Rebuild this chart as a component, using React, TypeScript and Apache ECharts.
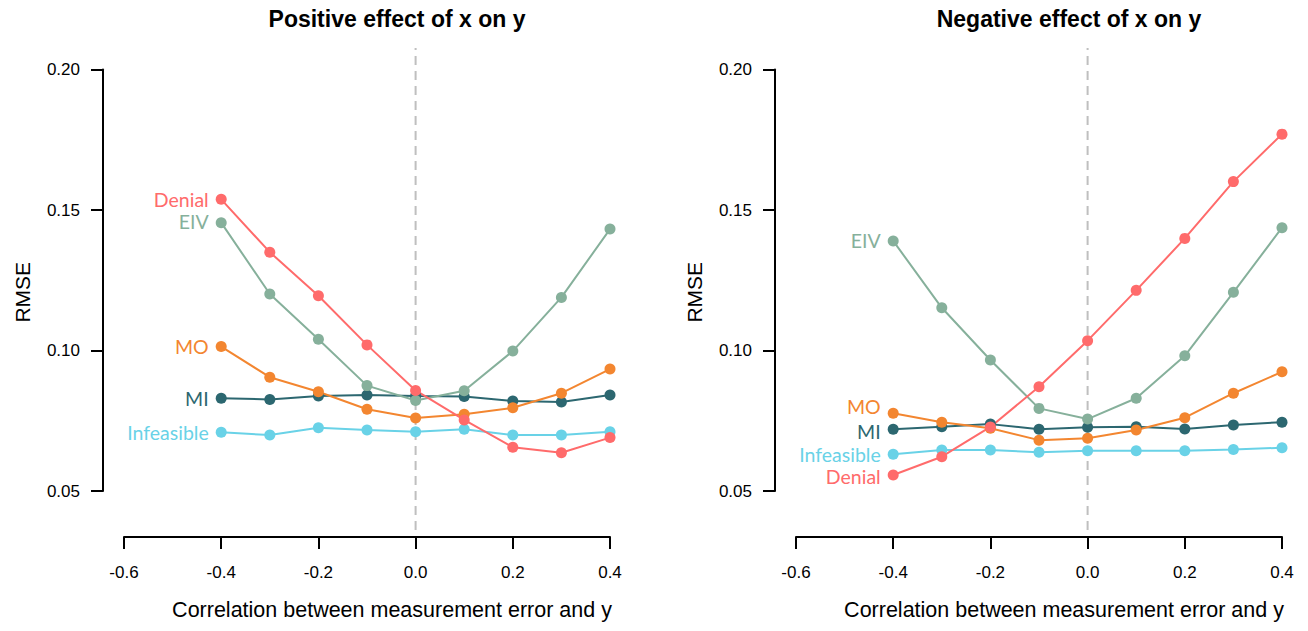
import React, { useEffect, useRef } from "react";
import * as echarts from "echarts";

const xValues = [-0.4, -0.3, -0.2, -0.1, 0.0, 0.1, 0.2, 0.3, 0.4];
const xTicks = [-0.6, -0.4, -0.2, 0.0, 0.2, 0.4];
const yTicks = [0.05, 0.1, 0.15, 0.2];

const methods = ["Infeasible", "MI", "MO", "EIV", "Denial"];
const colors: Record<string, string> = {
  Denial: "#FF6B6B",
  EIV: "#86B09B",
  MO: "#F38630",
  MI: "#2C6770",
  Infeasible: "#69D2E7",
};

const posDenial = [0.1538, 0.135, 0.1195, 0.102, 0.0858, 0.0753, 0.0656, 0.0636, 0.069];
const posEIV = [0.1455, 0.1201, 0.104, 0.0875, 0.0822, 0.0857, 0.0998, 0.1189, 0.1432];
const posMO = [0.1014, 0.0905, 0.0853, 0.0791, 0.076, 0.0773, 0.0796, 0.0848, 0.0934];
const posMI = [0.083, 0.0826, 0.0838, 0.0842, 0.0838, 0.0836, 0.082, 0.0817, 0.0842];
const posInfeasible = [0.0709, 0.0699, 0.0725, 0.0717, 0.0711, 0.072, 0.0699, 0.0699, 0.0711];

const negDenial = [0.0557, 0.0622, 0.0728, 0.0871, 0.1035, 0.1214, 0.1399, 0.1601, 0.177];
const negEIV = [0.139, 0.1152, 0.0966, 0.0794, 0.0756, 0.083, 0.0981, 0.1207, 0.1437];
const negMO = [0.0777, 0.0745, 0.0723, 0.0681, 0.0688, 0.0717, 0.0761, 0.0848, 0.0924];
const negMI = [0.072, 0.0729, 0.0738, 0.072, 0.0727, 0.0729, 0.0721, 0.0735, 0.0745];
const negInfeasible = [0.0631, 0.0646, 0.0646, 0.0638, 0.0643, 0.0643, 0.0643, 0.0648, 0.0654];

const panelTitles = ["Positive effect of x on y", "Negative effect of x on y"];
const xAxisTitle = "Correlation between measurement error and y";
const yAxisTitle = "RMSE";

const panels = [
  { Denial: posDenial, EIV: posEIV, MO: posMO, MI: posMI, Infeasible: posInfeasible },
  { Denial: negDenial, EIV: negEIV, MO: negMO, MI: negMI, Infeasible: negInfeasible },
];

const labelOffsets: Record<string, number>[] = [
  { Denial: 0, EIV: -1, MO: 0, MI: 0, Infeasible: 0 },
  { Denial: 2, EIV: 0, MO: -7, MI: 2, Infeasible: 0 },
];

const TICK_FONT = "'Liberation Sans', Arial, sans-serif";
const LABEL_FONT = "Lato, 'Liberation Sans', sans-serif";

export default function App() {
  const ref = useRef<HTMLDivElement>(null);
  useEffect(() => {
    if (!ref.current) return;
    const chart = echarts.init(ref.current, null, { renderer: "svg" });
    const lefts = [124, 796];
    const titleLefts = [392, 1064];
    const W = 486;
    const grids: any[] = [];
    const xAxes: any[] = [];
    const yAxes: any[] = [];
    const series: any[] = [];
    const titles: any[] = [];

    lefts.forEach((left, p) => {
      grids.push({ left, width: W, top: 69.5, height: 421.5, containLabel: false });
      grids.push({ left, width: W, top: 48, height: 482, containLabel: false });
      const gi = p * 2;
      xAxes.push({
        type: "value",
        gridIndex: gi,
        min: -0.6,
        max: 0.4,
        interval: 0.2,
        offset: 46,
        axisLine: { show: true, onZero: false, lineStyle: { color: "#000", width: 2 } },
        axisTick: { show: true, length: 12, lineStyle: { color: "#000", width: 2 } },
        axisLabel: {
          show: true,
          margin: 27,
          fontSize: 17,
          fontFamily: TICK_FONT,
          color: "#000",
          formatter: (v: number) => {
            const t = xTicks.find((k) => Math.abs(k - v) < 1e-9);
            return t === undefined ? "" : t.toFixed(1);
          },
        },
        splitLine: { show: false },
        name: xAxisTitle,
        nameLocation: "middle",
        nameGap: 62,
        nameTextStyle: {
          fontSize: 21.5,
          fontFamily: TICK_FONT,
          color: "#000",
          padding: [0, 0, 0, 50],
        },
      });
      yAxes.push({
        type: "value",
        gridIndex: gi,
        min: 0.05,
        max: 0.2,
        interval: 0.05,
        offset: 21,
        axisLine: { show: true, onZero: false, lineStyle: { color: "#000", width: 2 } },
        axisTick: { show: true, length: 12, lineStyle: { color: "#000", width: 2 } },
        axisLabel: {
          show: true,
          margin: 23,
          fontSize: 17,
          fontFamily: TICK_FONT,
          color: "#000",
          formatter: (v: number) => {
            const t = yTicks.find((k) => Math.abs(k - v) < 1e-9);
            return t === undefined ? "" : t.toFixed(2);
          },
        },
        splitLine: { show: false },
        name: yAxisTitle,
        nameLocation: "middle",
        nameGap: 70,
        nameTextStyle: {
          fontSize: 21,
          fontFamily: TICK_FONT,
          color: "#000",
          padding: [0, 24, 0, 0],
        },
      });
      xAxes.push({ type: "value", gridIndex: gi + 1, min: -0.6, max: 0.4, show: false });
      yAxes.push({ type: "value", gridIndex: gi + 1, min: 0, max: 1, show: false });

      series.push({
        type: "line",
        xAxisIndex: gi + 1,
        yAxisIndex: gi + 1,
        data: [
          [0, 0],
          [0, 1],
        ],
        symbol: "none",
        silent: true,
        z: 1,
        lineStyle: { color: "#BFBFBF", width: 2, type: [9, 6] },
      });

      const d = panels[p] as Record<string, number[]>;
      methods.forEach((m) => {
        series.push({
          type: "line",
          name: m,
          xAxisIndex: gi,
          yAxisIndex: gi,
          z: 3,
          symbol: "circle",
          symbolSize: 11,
          color: colors[m],
          lineStyle: { color: colors[m], width: 2 },
          itemStyle: { color: colors[m] },
          data: d[m].map((v, i) =>
            i === 0
              ? {
                  value: [xValues[i], v],
                  label: {
                    show: true,
                    position: "left",
                    distance: 7,
                    formatter: m,
                    color: colors[m],
                    fontSize: 19.5,
                    lineHeight: 18,
                    fontFamily: LABEL_FONT,
                    offset: [0, labelOffsets[p][m]],
                  },
                }
              : [xValues[i], v]
          ),
        });
      });

      titles.push({
        text: panelTitles[p],
        left: titleLefts[p],
        top: 2,
        textAlign: "center",
        textStyle: { fontSize: 23, fontWeight: "bold", fontFamily: TICK_FONT, color: "#000" },
      });
    });

    chart.setOption({
      animation: false,
      backgroundColor: "#fff",
      title: titles,
      grid: grids,
      xAxis: xAxes,
      yAxis: yAxes,
      series,
    });
    return () => chart.dispose();
  }, []);
  return (
    <div
      ref={ref}
      style={{ position: "fixed", left: 0, top: 0, width: 1308, height: 631 }}
    />
  );
}
